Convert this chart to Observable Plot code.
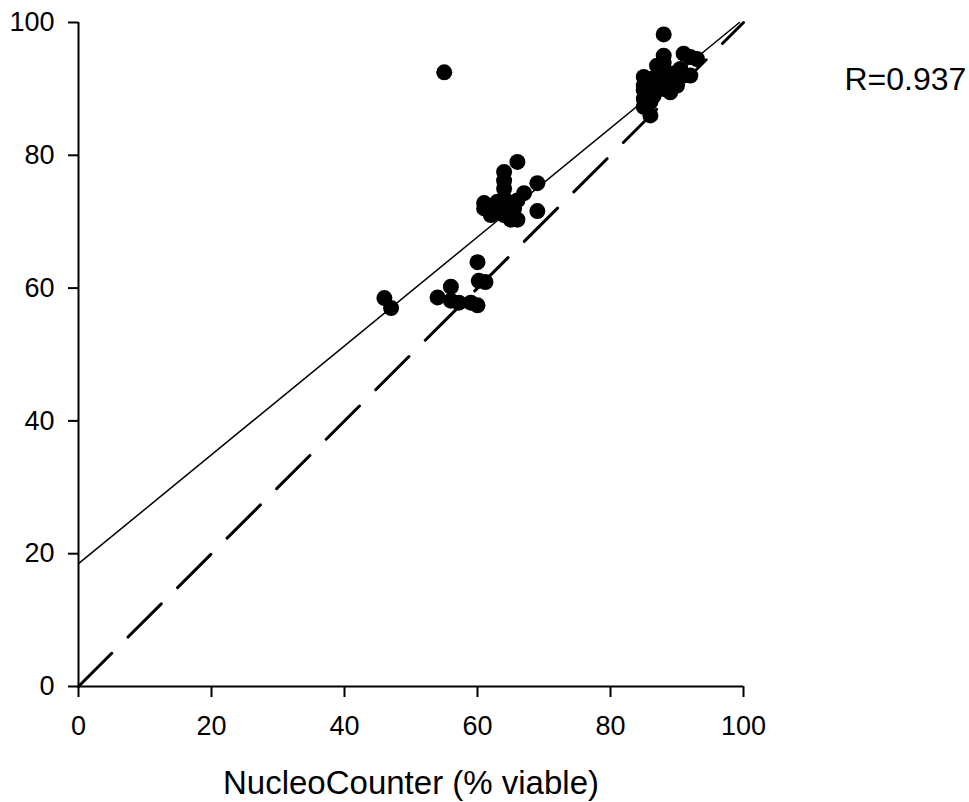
<!DOCTYPE html>
<html>
<head>
<meta charset="utf-8">
<script src="https://cdn.jsdelivr.net/npm/d3@7"></script>
<script src="https://cdn.jsdelivr.net/npm/@observablehq/plot@0.6"></script>
<style>
  html, body { margin: 0; padding: 0; background: #fff; }
  svg { display: block; }
</style>
</head>
<body>
<div id="chart"></div>
<script>
// Data
const nucleoCounter = [
  55,
  46, 47, 54, 56, 56, 57.2, 59, 60, 60, 60.2, 61.2,
  61, 61, 62, 63, 63.5, 64, 64, 64, 64, 64.5, 65, 65.5, 66, 66, 66, 67, 69, 69, 63, 65, 64,
  85, 85, 85, 85, 85, 86, 86, 86.5, 87, 87, 87, 88, 88, 88, 88.5, 89, 89, 90, 90, 90.5, 91, 91, 92, 92, 93, 87.5, 88, 86
];
const otherMethod = [
  92.5,
  58.5, 57, 58.6, 60.2, 58.1, 57.8, 57.8, 57.4, 63.9, 61.1, 60.9,
  72.8, 72, 71, 71.5, 72.7, 77.5, 76.2, 75, 73.5, 73, 70.3, 72, 70.3, 73.2, 79, 74.3, 75.8, 71.6, 73, 72.5, 71,
  91.8, 90.5, 89.8, 88.5, 87.3, 86, 88, 89, 90.5, 92, 93.5, 98.2, 95, 94, 92.5, 89.5, 91, 90.5, 92.5, 93, 95.3, 92, 94.8, 92, 94.5, 91, 90, 91.5
];
const xTicks = [0, 20, 40, 60, 80, 100];
const yTicks = [0, 20, 40, 60, 80, 100];
const identityLine = [0, 100];
const regIntercept = 18.5;
const regSlope = 0.82;
const rLabel = "R=0.937";
const xLabel = "NucleoCounter (% viable)";

const points = nucleoCounter.map((x, i) => ({x, y: otherMethod[i]}));
const idData = identityLine.map(v => ({x: v, y: v}));
const regEndX = (100 - regIntercept) / regSlope;
const regData = [0, regEndX].map(x => ({x, y: regIntercept + regSlope * x}));

const font = "Liberation Sans, Arial, Helvetica, sans-serif";

const chart = Plot.plot({
  width: 969,
  height: 802,
  marginLeft: 78,
  marginRight: 226,
  marginTop: 22,
  marginBottom: 116,
  style: {fontFamily: font, background: "#fff", color: "#000"},
  x: {domain: [0, 100]},
  y: {domain: [0, 100]},
  marks: [
    Plot.axisX({ticks: xTicks, tickSize: 11, tickPadding: 18, fontSize: 27, label: null, strokeWidth: 2, tickFormat: d => String(d)}),
    Plot.axisY({ticks: yTicks, tickSize: 10, tickPadding: 14, fontSize: 27, label: null, strokeWidth: 2, tickFormat: d => String(d)}),
    Plot.ruleX([0], {strokeWidth: 2}),
    Plot.ruleY([0], {strokeWidth: 2}),
    Plot.line(idData, {x: "x", y: "y", stroke: "black", strokeWidth: 3, strokeDasharray: "47,23", strokeLinecap: "round"}),
    Plot.line(regData, {x: "x", y: "y", stroke: "black", strokeWidth: 1.5}),
    Plot.dot(points, {x: "x", y: "y", r: 8, fill: "black", stroke: "none"}),
    Plot.text([xLabel], {frameAnchor: "bottom", dy: 97, fontSize: 33, lineAnchor: "middle", fill: "black"}),
    Plot.text([rLabel], {frameAnchor: "top-right", textAnchor: "start", dx: 101, dy: 57, fontSize: 32, lineAnchor: "middle", fill: "black"})
  ]
});
document.getElementById("chart").appendChild(chart);
</script>
</body>
</html>
